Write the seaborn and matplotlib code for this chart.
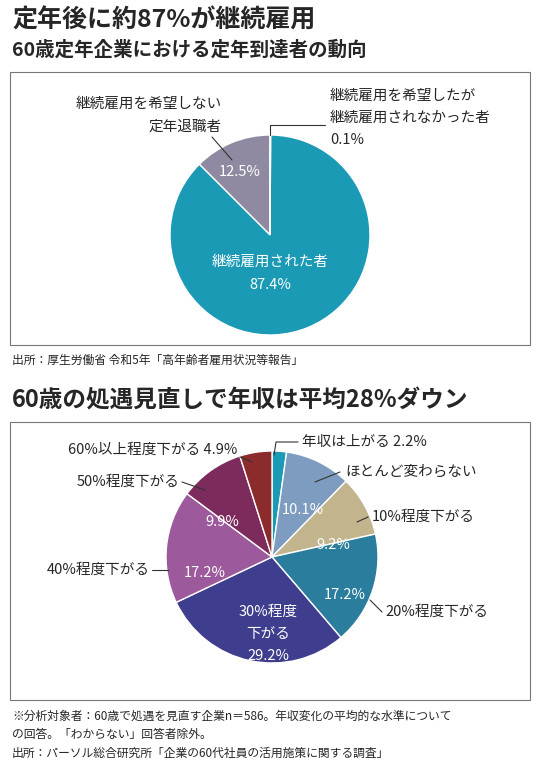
import matplotlib
matplotlib.use("Agg")
import matplotlib.pyplot as plt
import seaborn as sns
from matplotlib.patches import Rectangle

sns.set_theme(style="white")
plt.rcParams['font.family'] = ['Noto Sans CJK JP', 'DejaVu Sans']

# data
cats1 = ["継続雇用を希望しない定年退職者", "継続雇用された者", "継続雇用を希望したが継続雇用されなかった者"]
vals1 = [12.5, 87.4, 0.1]
cols1 = ["#8f8aa1", "#1b9ab5", "#ffffff"]

cats2 = ["年収は上がる", "ほとんど変わらない", "10%程度下がる", "20%程度下がる",
         "30%程度下がる", "40%程度下がる", "50%程度下がる", "60%以上程度下がる"]
vals2 = [2.2, 10.1, 9.2, 17.2, 29.2, 17.2, 9.9, 4.9]
cols2 = ["#1b9ab5", "#7d9cc0", "#c2b48d", "#2a7d9c", "#3f3d8d", "#9c5a9c", "#7d2b5c", "#8c2b2b"]

W, H = 540, 770
fig = plt.figure(figsize=(W/100, H/100), dpi=100)
bg = fig.add_axes([0, 0, 1, 1])
bg.set_xlim(0, W); bg.set_ylim(H, 0); bg.axis("off")
bg.set_zorder(10); bg.patch.set_alpha(0)

def pie_axes(cx, cy, r):
    return fig.add_axes([(cx-r)/W, (H-cy-r)/H, 2*r/W, 2*r/H])

def fix(ax):
    ax.set_xlim(-1, 1); ax.set_ylim(-1, 1); ax.set_aspect("equal"); ax.axis("off")

# titles
bg.text(12, 20, "定年後に約87%が継続雇用", fontsize=18, fontweight="bold", va="center")
bg.text(12, 50, "60歳定年企業における定年到達者の動向", fontsize=14, fontweight="bold", va="center")
bg.add_patch(Rectangle((10, 72), 520, 273, fill=False, ec="#777777", lw=0.8))

ax1 = pie_axes(270, 235, 100)
ax1.pie(vals1, colors=cols1, startangle=90, counterclock=True, radius=1,
        wedgeprops=dict(edgecolor="white", linewidth=1))
fix(ax1)
bg.text(240, 172, "12.5%", color="white", fontsize=10.5, ha="center", va="center")
bg.text(270, 262, "継続雇用された者", color="white", fontsize=10.5, ha="center", va="center")
bg.text(270, 285, "87.4%", color="white", fontsize=10.5, ha="center", va="center")
bg.text(222, 104, "継続雇用を希望しない", fontsize=10.5, ha="right", va="center")
bg.text(222, 127, "定年退職者", fontsize=10.5, ha="right", va="center")
bg.plot([212, 232], [137, 160], color="#333333", lw=0.8)
bg.text(330, 96, "継続雇用を希望したが", fontsize=10.5, ha="left", va="center")
bg.text(330, 118, "継続雇用されなかった者", fontsize=10.5, ha="left", va="center")
bg.text(330, 140, "0.1%", fontsize=10.5, ha="left", va="center")
bg.plot([270, 270, 325], [135, 125, 125], color="#333333", lw=0.8)

bg.text(12, 360, "出所：厚生労働省 令和5年「高年齢者雇用状況等報告」", fontsize=8.5, va="center")

bg.text(12, 400, "60歳の処遇見直しで年収は平均28%ダウン", fontsize=17, fontweight="bold", va="center")
bg.add_patch(Rectangle((10, 422), 520, 278, fill=False, ec="#777777", lw=0.8))

ax2 = pie_axes(272, 557, 106)
ax2.pie(vals2, colors=cols2, startangle=90, counterclock=False, radius=1,
        wedgeprops=dict(edgecolor="white", linewidth=1))
fix(ax2)
for x, y, t in [(303, 510, "10.1%"), (333, 545, "9.2%"), (345, 595, "17.2%"),
                (205, 573, "17.2%"), (222, 522, "9.9%")]:
    bg.text(x, y, t, color="white", fontsize=10.5, ha="center", va="center")
for y, t in [(612, "30%程度"), (634, "下がる"), (656, "29.2%")]:
    bg.text(268, y, t, color="white", fontsize=10.5, ha="center", va="center")

fs = 10.5
bg.text(302, 442, "年収は上がる 2.2%", fontsize=fs, va="center")
bg.plot([274, 276, 298], [455, 442, 442], color="#333", lw=0.8)
bg.text(345, 472, "ほとんど変わらない", fontsize=fs, va="center")
bg.plot([315, 340], [482, 472], color="#333", lw=0.8)
bg.text(372, 517, "10%程度下がる", fontsize=fs, va="center")
bg.plot([357, 368], [522, 517], color="#333", lw=0.8)
bg.text(385, 612, "20%程度下がる", fontsize=fs, va="center")
bg.plot([370, 382], [600, 612], color="#333", lw=0.8)
bg.text(150, 570, "40%程度下がる", fontsize=fs, va="center", ha="right")
bg.plot([152, 168], [570, 570], color="#333", lw=0.8)
bg.text(180, 482, "50%程度下がる", fontsize=fs, va="center", ha="right")
bg.plot([182, 205], [482, 490], color="#333", lw=0.8)
bg.text(68, 450, "60%以上程度下がる 4.9%", fontsize=fs, va="center")
bg.plot([240, 252], [457, 462], color="#333", lw=0.8)

bg.text(12, 716, "※分析対象者：60歳で処遇を見直す企業n＝586。年収変化の平均的な水準について", fontsize=8.5, va="center")
bg.text(12, 734, "の回答。「わからない」回答者除外。", fontsize=8.5, va="center")
bg.text(12, 753, "出所：パーソル総合研究所「企業の60代社員の活用施策に関する調査」", fontsize=8.5, va="center")

fig.savefig("out.png", dpi=100)
